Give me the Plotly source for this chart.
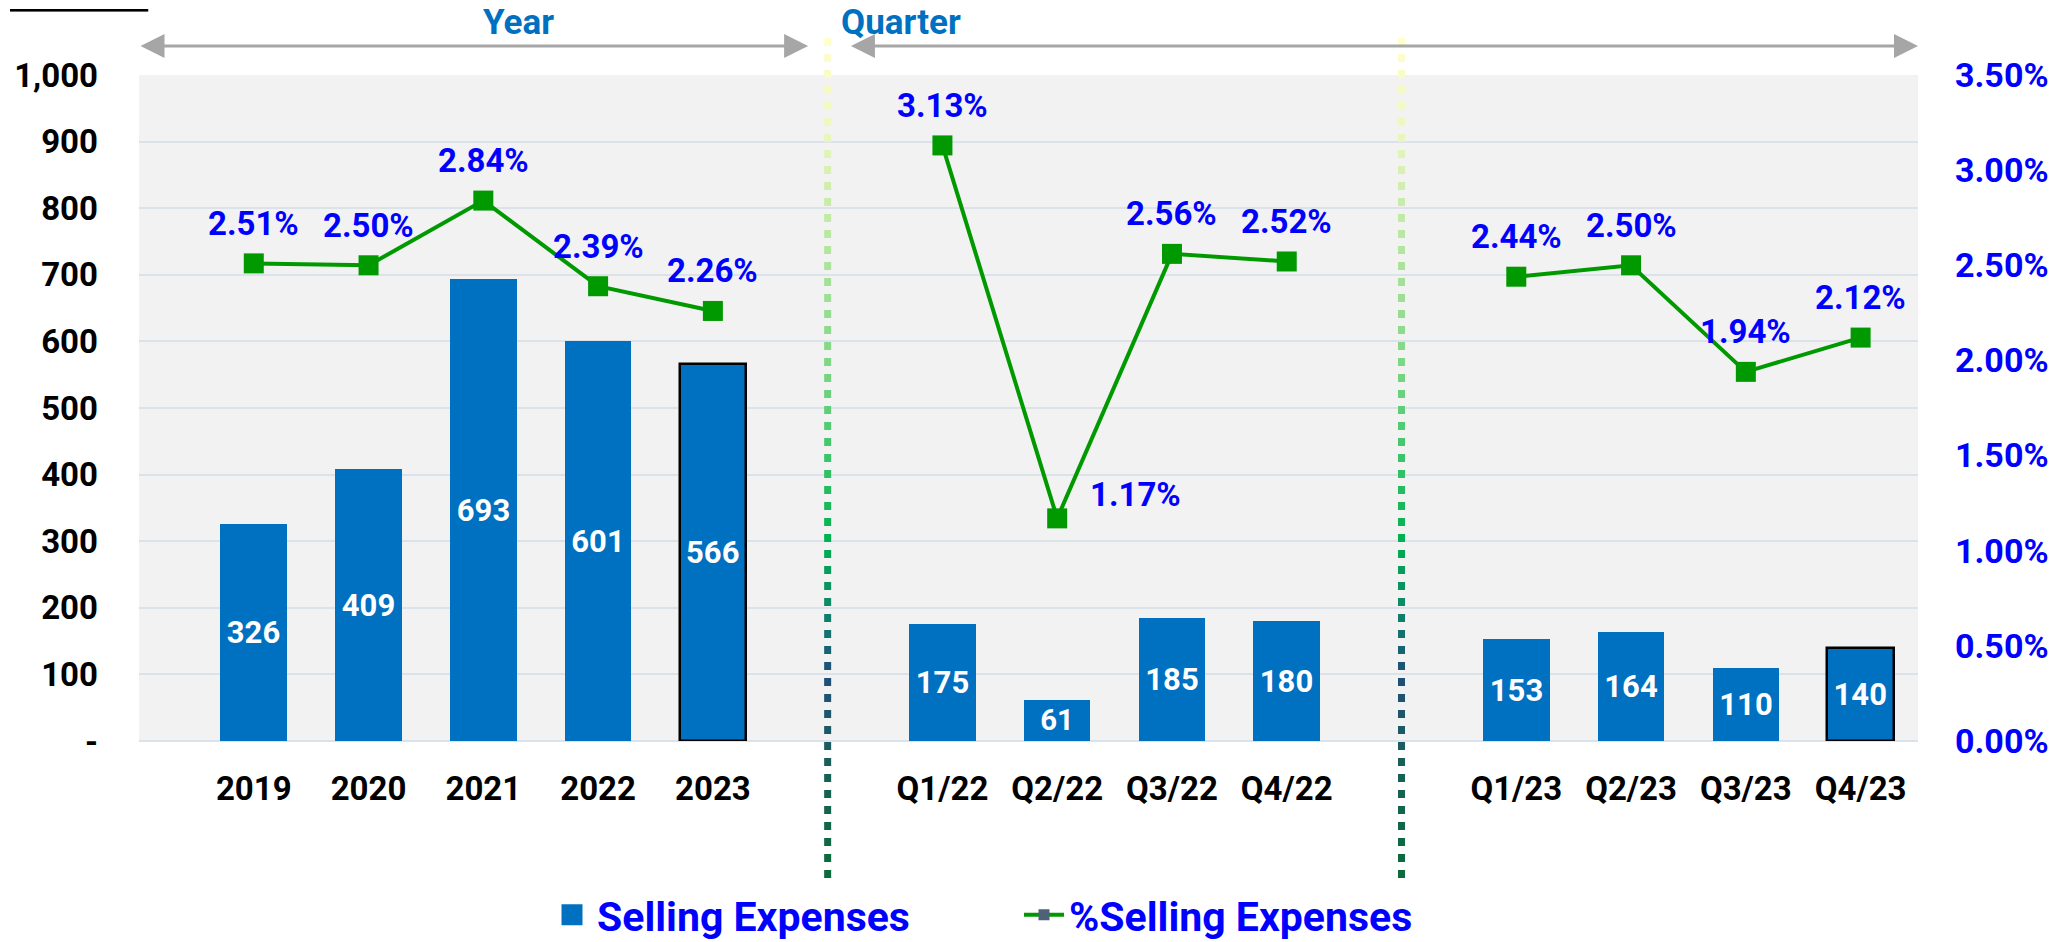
import plotly.graph_objects as go

# ---------------- data ----------------
years = ["2019", "2020", "2021", "2022", "2023"]
quarters_22 = ["Q1/22", "Q2/22", "Q3/22", "Q4/22"]
quarters_23 = ["Q1/23", "Q2/23", "Q3/23", "Q4/23"]

exp_years = [326, 409, 693, 601, 566]
exp_q22 = [175, 61, 185, 180]
exp_q23 = [153, 164, 110, 140]

pct_years = [2.51, 2.50, 2.84, 2.39, 2.26]
pct_q22 = [3.13, 1.17, 2.56, 2.52]
pct_q23 = [2.44, 2.50, 1.94, 2.12]

left_tickvals = [0, 100, 200, 300, 400, 500, 600, 700, 800, 900, 1000]
left_ticktext = ["-", "100", "200", "300", "400", "500", "600", "700", "800", "900", "1,000"]
outlined = ["2023", "Q4/23"]

# ---------------- layout constants ----------------
OFF = 8                      # page body margin offset
W, H = 2071 - OFF, 942 - OFF
PLOT_L, PLOT_R, PLOT_T, PLOT_B = 139, 1918, 75, 741   # on-screen plot bounds
ML, MT = PLOT_L - OFF, PLOT_T - OFF
MR, MB = 2071 - PLOT_R, 942 - PLOT_B
PLOT_W = PLOT_R - PLOT_L
PLOT_H = PLOT_B - PLOT_T
FONT = "Roboto"
BAR_BLUE = "#0070C0"
TEXT_BLUE = "#0000FF"
GREEN = "#009900"


def py(pix):
    """screen pixel y -> paper y"""
    return (PLOT_B - pix) / PLOT_H


def px(pix):
    """screen pixel x -> paper x"""
    return (pix - PLOT_L) / PLOT_W


groups = [(years, exp_years, pct_years),
          (quarters_22, exp_q22, pct_q22),
          (quarters_23, exp_q23, pct_q23)]

fig = go.Figure()

all_pos, all_cat, all_exp = [], [], []
group_pos = []
start = 0
for cats, exps, pcts in groups:
    pos = [start + i for i in range(len(cats))]
    group_pos.append(pos)
    all_pos += pos
    all_cat += cats
    all_exp += exps
    start += len(cats) + 1

divider_x = [len(years), len(years) + len(quarters_22) + 1]

fig.add_trace(go.Bar(
    x=all_pos, y=all_exp, name="Selling Expenses",
    width=0.58,
    marker=dict(color=BAR_BLUE,
                line=dict(color=["#000000" if c in outlined else BAR_BLUE for c in all_cat],
                          width=[2.5 if c in outlined else 0 for c in all_cat])),
    text=[str(v) for v in all_exp], textposition="inside", insidetextanchor="middle",
    textangle=0,
    textfont=dict(family=FONT, size=31, color="white", weight="bold"),
    showlegend=False, yaxis="y",
))

for (cats, exps, pcts), pos in zip(groups, group_pos):
    fig.add_trace(go.Scatter(
        x=pos, y=pcts, mode="lines+markers", yaxis="y2",
        line=dict(color=GREEN, width=4),
        marker=dict(symbol="square", size=20, color=GREEN),
        showlegend=False,
    ))

# legend entries
fig.add_trace(go.Scatter(
    x=[None], y=[None], mode="markers", name="Selling Expenses",
    marker=dict(symbol="square", size=16, color=BAR_BLUE,
                line=dict(color=BAR_BLUE, width=5)),
))
fig.add_trace(go.Scatter(
    x=[None], y=[None], mode="lines+markers", yaxis="y2",
    name="%Selling Expenses",
    line=dict(color=GREEN, width=4),
    marker=dict(symbol="square", size=11, color="#4F6178"),
))

annotations = []
# percentage labels
for (cats, exps, pcts), pos in zip(groups, group_pos):
    for c, p, v in zip(cats, pos, pcts):
        if c == "Q2/22":
            xs, ys = 78, 24
        else:
            xs, ys = 0, 40
        annotations.append(dict(
            x=p, y=v, xref="x", yref="y2", text=f"{v:.2f}%", showarrow=False,
            xshift=xs, yshift=ys,
            font=dict(family=FONT, size=33, color=TEXT_BLUE, weight="bold"),
        ))

# section arrows
arrow_y = py(46)
for x0, x1 in [(-1.0, 4.83), (5.19, 14.5)]:
    annotations.append(dict(
        x=x1, y=arrow_y, ax=x0, ay=0, xref="x", yref="paper",
        axref="x", ayref="pixel", text="", showarrow=True,
        arrowhead=2, arrowside="end+start", arrowsize=1.6, arrowwidth=3,
        arrowcolor="#A6A6A6", standoff=0, startstandoff=0,
    ))

annotations.append(dict(x=2.31, y=py(23), xref="x", yref="paper", text="Year",
                        showarrow=False, yanchor="middle",
                        font=dict(family=FONT, size=35, color=BAR_BLUE, weight="bold")))
annotations.append(dict(x=5.64, y=py(23), xref="x", yref="paper", text="Quarter",
                        showarrow=False, yanchor="middle",
                        font=dict(family=FONT, size=35, color=BAR_BLUE, weight="bold")))
annotations.append(dict(x=px(OFF), y=py(15), xref="paper", yref="paper",
                        xanchor="left", yanchor="bottom", text="<u>Million VND</u>",
                        showarrow=False,
                        font=dict(family=FONT, size=26, color="black", weight="bold")))

# gradient dotted dividers
stops = [(0.00, (255, 255, 204)), (0.10, (238, 247, 192)), (0.20, (197, 235, 168)),
         (0.30, (160, 224, 150)), (0.40, (120, 213, 130)), (0.50, (60, 196, 106)),
         (0.60, (0, 176, 80)), (0.68, (13, 135, 104)), (0.76, (31, 78, 121)),
         (0.86, (26, 94, 92)), (1.00, (11, 107, 58))]


def grad(t):
    for (t0, c0), (t1, c1) in zip(stops[:-1], stops[1:]):
        if t0 <= t <= t1:
            f = (t - t0) / (t1 - t0) if t1 > t0 else 0
            return "rgb(%d,%d,%d)" % tuple(round(a + (b - a) * f) for a, b in zip(c0, c1))
    return "rgb(%d,%d,%d)" % stops[-1][1]


shapes = []
top_pix, bot_pix, period, dot = 38, 870, 16, 8
n = int((bot_pix - top_pix) / period) + 1
for dx in divider_x:
    for i in range(n):
        y0 = top_pix + i * period
        t = i / (n - 1)
        shapes.append(dict(type="line", xref="x", yref="paper", x0=dx, x1=dx,
                           y0=py(y0), y1=py(y0 + dot),
                           line=dict(color=grad(t), width=7), layer="above"))

fig.update_layout(
    width=W, height=H,
    margin=dict(l=ML, r=MR, t=MT, b=MB, autoexpand=False),
    paper_bgcolor="white", plot_bgcolor="#F2F2F2",
    bargap=0,
    xaxis=dict(range=[-1.0, 14.5], tickvals=all_pos, ticktext=all_cat,
               showgrid=False, zeroline=False, showline=False, ticks="",
               ticklabelstandoff=25, automargin=False,
               tickfont=dict(family=FONT, size=33, color="black", weight="bold")),
    yaxis=dict(range=[0, 1000], tickvals=left_tickvals, ticktext=left_ticktext,
               showgrid=True, gridcolor="#DCE2EA", gridwidth=2,
               zeroline=True, zerolinecolor="#DCE2EA", zerolinewidth=2,
               showline=False, ticks="", ticklabelstandoff=40, automargin=False,
               tickfont=dict(family=FONT, size=33, color="black", weight="bold")),
    yaxis2=dict(range=[0, 3.5], dtick=0.5, tickformat=".2f", ticksuffix="%",
                overlaying="y", side="right", showgrid=False, zeroline=False,
                showline=False, ticks="", ticklabelstandoff=36, automargin=False,
                tickfont=dict(family=FONT, size=34, color=TEXT_BLUE, weight="bold")),
    legend=dict(orientation="h", x=px(547), xanchor="left", y=py(915), yanchor="middle",
                font=dict(family=FONT, size=41, color=TEXT_BLUE, weight="bold"),
                bgcolor="rgba(0,0,0,0)", itemwidth=40, traceorder="normal",
                entrywidth=417, entrywidthmode="pixels"),
    annotations=annotations, shapes=shapes,
)

fig.write_html("out.html")
